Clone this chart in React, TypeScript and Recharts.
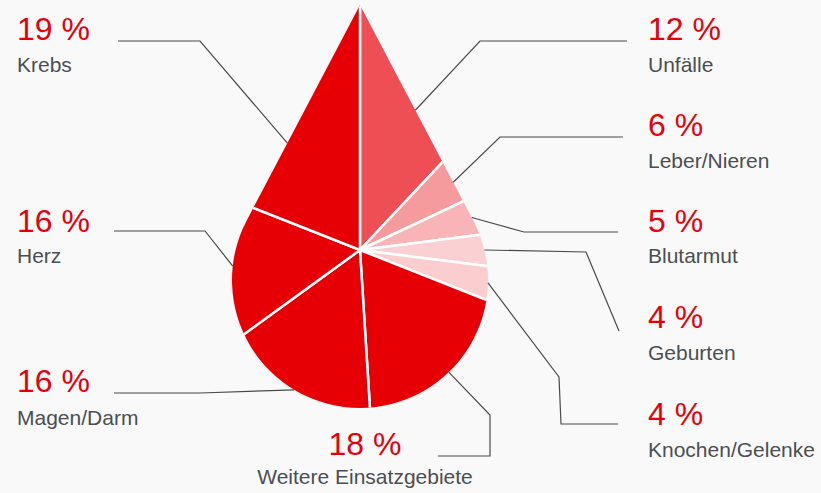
import React from "react";
import { PieChart, Pie, Cell } from "recharts";

const categories = [
  "Unfälle",
  "Leber/Nieren",
  "Blutarmut",
  "Geburten",
  "Knochen/Gelenke",
  "Weitere Einsatzgebiete",
  "Magen/Darm",
  "Herz",
  "Krebs",
];
const shares = [12, 6, 5, 4, 4, 18, 16, 16, 19];
const colors = ["#ee4f55", "#f59b9d", "#f8b4b6", "#fbd0d2", "#fbcdcf", "#e60005", "#e60005", "#e60005", "#e60005"];

const data = categories.map((name, i) => ({ name, value: shares[i] }));

// label placement + leader line bends (the end on the drop is computed)
const layout: { x: number; anchor: "start" | "middle"; numY: number; nameY: number; pts: number[][] }[] = [
  { x: 648, anchor: "start", numY: 40, nameY: 72, pts: [[627, 41], [480, 41]] },
  { x: 648, anchor: "start", numY: 136, nameY: 168, pts: [[623, 137], [500, 137]] },
  { x: 648, anchor: "start", numY: 232, nameY: 263, pts: [[618, 232], [524, 232]] },
  { x: 648, anchor: "start", numY: 328, nameY: 360, pts: [[619, 331], [586, 252]] },
  { x: 648, anchor: "start", numY: 425, nameY: 457, pts: [[618, 424], [561, 424], [559, 377]] },
  { x: 365, anchor: "middle", numY: 455, nameY: 484, pts: [[438, 456], [490, 456], [490, 415]] },
  { x: 17, anchor: "start", numY: 392, nameY: 425, pts: [[114, 393], [200, 393]] },
  { x: 17, anchor: "start", numY: 232, nameY: 263, pts: [[114, 231], [205, 231]] },
  { x: 17, anchor: "start", numY: 40, nameY: 72, pts: [[118, 41], [200, 41]] },
];

const W = 821;
const H = 493;
const CX = 360;
const CY = 250;
// drop outline, relative to pie centre
const TIP = { x: 0, y: -245 };
const BODY = { x: 0, y: 30, r: 128 };
const tanLen = Math.sqrt((BODY.y - TIP.y) ** 2 - BODY.r ** 2);
const tanA = Math.asin(BODY.r / (BODY.y - TIP.y));
const TR = { x: tanLen * Math.sin(tanA), y: TIP.y + tanLen * Math.cos(tanA) };
const TL = { x: -TR.x, y: TR.y };

const dropPath =
  `M ${CX + TIP.x} ${CY + TIP.y} L ${CX + TL.x} ${CY + TL.y} ` +
  `A ${BODY.r} ${BODY.r} 0 1 0 ${CX + TR.x} ${CY + TR.y} Z`;

const RAD = Math.PI / 180;
const cross = (a: number[], b: number[]) => a[0] * b[1] - a[1] * b[0];

// distance from centre to drop outline along a ray
function edgeDist(ux: number, uy: number) {
  const dot = ux * BODY.x + uy * BODY.y;
  let best = dot + Math.sqrt(dot * dot - (BODY.x ** 2 + BODY.y ** 2) + BODY.r ** 2);
  for (const P of [TL, TR]) {
    const A = [TIP.x, TIP.y];
    const D = [P.x - TIP.x, P.y - TIP.y];
    const den = cross([ux, uy], D);
    if (Math.abs(den) < 1e-9) continue;
    const s = cross(A, D) / den;
    const t = cross(A, [ux, uy]) / den;
    if (s > 0 && t >= 0 && t <= 1) best = Math.max(best, s);
  }
  return best;
}

const FONT = "'Liberation Sans', Arial, Helvetica, sans-serif";

const renderLabel = (props: any) => {
  const { cx, cy, midAngle, index, value, name } = props;
  const lay = layout[index];
  const ux = Math.cos(-midAngle * RAD);
  const uy = Math.sin(-midAngle * RAD);
  const d = edgeDist(ux, uy);
  const ex = cx + ux * d;
  const ey = cy + uy * d;
  const pts = [...lay.pts, [ex, ey]].map((p) => p.join(",")).join(" ");
  return (
    <g key={`lbl-${index}`}>
      <polyline points={pts} fill="none" stroke="#4a4a4a" strokeWidth={1.2} />
      <text x={lay.x} y={lay.numY} textAnchor={lay.anchor} fill="#e6000a" fontSize={32} fontFamily={FONT}>
        {`${value} %`}
      </text>
      <text x={lay.x} y={lay.nameY} textAnchor={lay.anchor} fill="#4b4e53" fontSize={21} fontFamily={FONT}>
        {name}
      </text>
    </g>
  );
};

export default function App() {
  return (
    <div style={{ position: "absolute", left: 0, top: 0, width: W, height: H, background: "#f9f9f9" }}>
      <PieChart width={W} height={H} margin={{ top: 0, right: 0, bottom: 0, left: 0 }}>
        <defs>
          <clipPath id="drop">
            <path d={dropPath} />
          </clipPath>
        </defs>
        <Pie
          data={data}
          dataKey="value"
          nameKey="name"
          cx={CX}
          cy={CY}
          innerRadius={0}
          outerRadius={270}
          startAngle={90}
          endAngle={-270}
          stroke="#ffffff"
          strokeWidth={2.5}
          label={renderLabel}
          labelLine={false}
          isAnimationActive={false}
        >
          {data.map((d, i) => (
            <Cell key={d.name} fill={colors[i]} clipPath="url(#drop)" />
          ))}
        </Pie>
      </PieChart>
    </div>
  );
}
